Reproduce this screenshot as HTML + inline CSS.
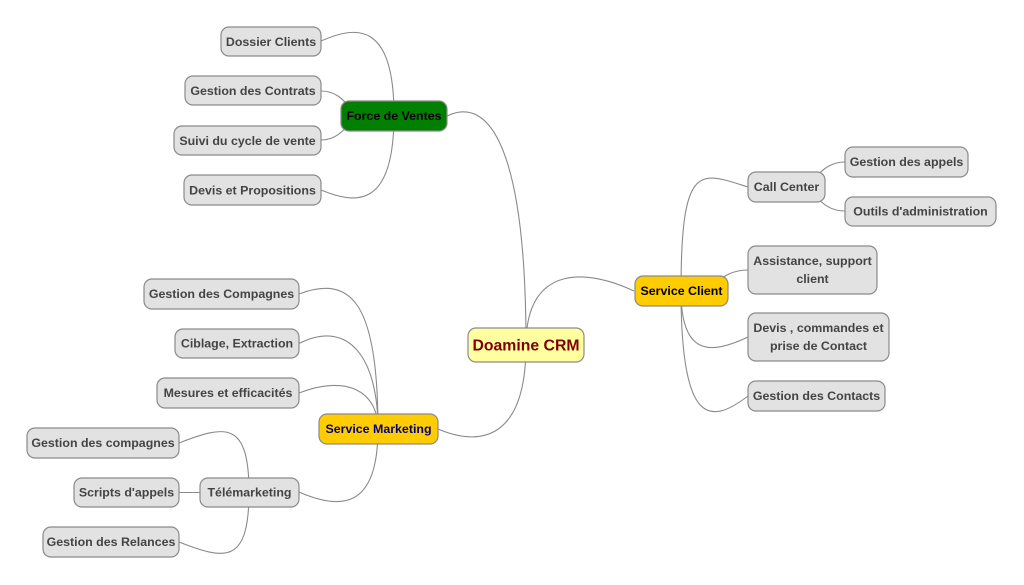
<!DOCTYPE html>
<html><head><meta charset="utf-8">
<style>
html,body{margin:0;padding:0;background:#fff;}
svg{display:block;}
text{font-family:"Liberation Sans",Arial,sans-serif;font-weight:bold;font-size:12.4px;fill:#444;}
</style></head>
<body>
<svg width="1024" height="585" viewBox="0 0 1024 585" xmlns="http://www.w3.org/2000/svg">
<g fill="none" stroke="#8a8a8a" stroke-width="1.1">
<!-- root links -->
<path d="M526,345 C526,150 490,95 447,116"/>
<path d="M526,345 C526,262 590,270 634,291"/>
<path d="M526,345 C526,440 480,447 438,429"/>
<!-- Force de Ventes -->
<path d="M394,115 C394,20 355,26 321,41"/>
<path d="M365,118 C350,115 345,91 321,91"/>
<path d="M365,112 C350,115 345,140 321,140"/>
<path d="M394,115 C394,210 355,204 321,190"/>
<!-- Service Client -->
<path d="M681,291 C681,160 700,172 748,187"/>
<path d="M700,292 C715,290 720,270 748,270"/>
<path d="M681,291 C681,356 710,355 748,337"/>
<path d="M681,291 C681,426 710,425 748,396"/>
<!-- Call Center -->
<path d="M800,188 C815,185 820,162 845,162"/>
<path d="M800,186 C815,189 820,211 845,211"/>
<!-- Service Marketing -->
<path d="M378,429 C378,300 350,275 299,294"/>
<path d="M378,429 C378,360 350,318 299,343.5"/>
<path d="M378,429 C378,390 345,375 299,393"/>
<path d="M378,429 C378,510 340,510 299,492"/>
<!-- Telemarketing -->
<path d="M249,492 C249,420 225,425 179,443"/>
<path d="M179,492.5 L200,492.5"/>
<path d="M249,492 C249,565 225,560 179,542"/>
</g>

<g stroke="#8a8a8a" stroke-width="1.2">
<rect x="221" y="27" width="100" height="29" rx="8" fill="#e2e2e2"/>
<rect x="185" y="76" width="136" height="29" rx="8" fill="#e2e2e2"/>
<rect x="341" y="101" width="106" height="30" rx="8" fill="#007f00"/>
<rect x="174" y="126" width="147" height="29" rx="8" fill="#e2e2e2"/>
<rect x="184" y="175" width="137" height="30" rx="8" fill="#e2e2e2"/>

<rect x="748" y="172" width="77" height="30" rx="8" fill="#e2e2e2"/>
<rect x="845" y="147" width="123" height="30" rx="8" fill="#e2e2e2"/>
<rect x="845" y="197" width="151" height="29" rx="8" fill="#e2e2e2"/>
<rect x="748" y="246" width="129" height="48" rx="8" fill="#e2e2e2"/>
<rect x="635" y="276" width="93" height="30" rx="8" fill="#ffcc00"/>
<rect x="748" y="313" width="141" height="48" rx="8" fill="#e2e2e2"/>
<rect x="748" y="381" width="137" height="30" rx="8" fill="#e2e2e2"/>

<rect x="468" y="328" width="116" height="34" rx="8" fill="#ffffa0"/>

<rect x="144" y="279" width="155" height="30" rx="8" fill="#e2e2e2"/>
<rect x="175" y="329" width="124" height="29" rx="8" fill="#e2e2e2"/>
<rect x="157" y="378" width="142" height="30" rx="8" fill="#e2e2e2"/>
<rect x="319" y="414" width="119" height="30" rx="8" fill="#ffcc00"/>
<rect x="27" y="428" width="152" height="30" rx="8" fill="#e2e2e2"/>
<rect x="74" y="478" width="105" height="29" rx="8" fill="#e2e2e2"/>
<rect x="200" y="478" width="99" height="29" rx="8" fill="#e2e2e2"/>
<rect x="43" y="527" width="136" height="30" rx="8" fill="#e2e2e2"/>
</g>

<g text-anchor="middle">
<text x="271" y="46">Dossier Clients</text>
<text x="253" y="95">Gestion des Contrats</text>
<text x="394" y="120" style="fill:#000">Force de Ventes</text>
<text x="247.5" y="145">Suivi du cycle de vente</text>
<text x="252.5" y="194.5">Devis et Propositions</text>

<text x="786.5" y="191">Call Center</text>
<text x="906.5" y="166">Gestion des appels</text>
<text x="920.5" y="215.5">Outils d'administration</text>
<text x="812.5" y="265">Assistance, support</text>
<text x="812.5" y="283">client</text>
<text x="681.5" y="295" style="fill:#000">Service Client</text>
<text x="818.5" y="332">Devis , commandes et</text>
<text x="818.5" y="350">prise de Contact</text>
<text x="816.5" y="400">Gestion des Contacts</text>

<text x="526" y="350.5" style="fill:#800000;font-size:15.8px">Doamine CRM</text>

<text x="221.5" y="298">Gestion des Compagnes</text>
<text x="237" y="347.5">Ciblage, Extraction</text>
<text x="228" y="397">Mesures et efficacités</text>
<text x="378.5" y="433" style="fill:#000080">Service Marketing</text>
<text x="103" y="447">Gestion des compagnes</text>
<text x="126.5" y="496.5">Scripts d'appels</text>
<text x="249.5" y="496.5">Télémarketing</text>
<text x="111" y="546">Gestion des Relances</text>
</g>
</svg>
</body></html>
